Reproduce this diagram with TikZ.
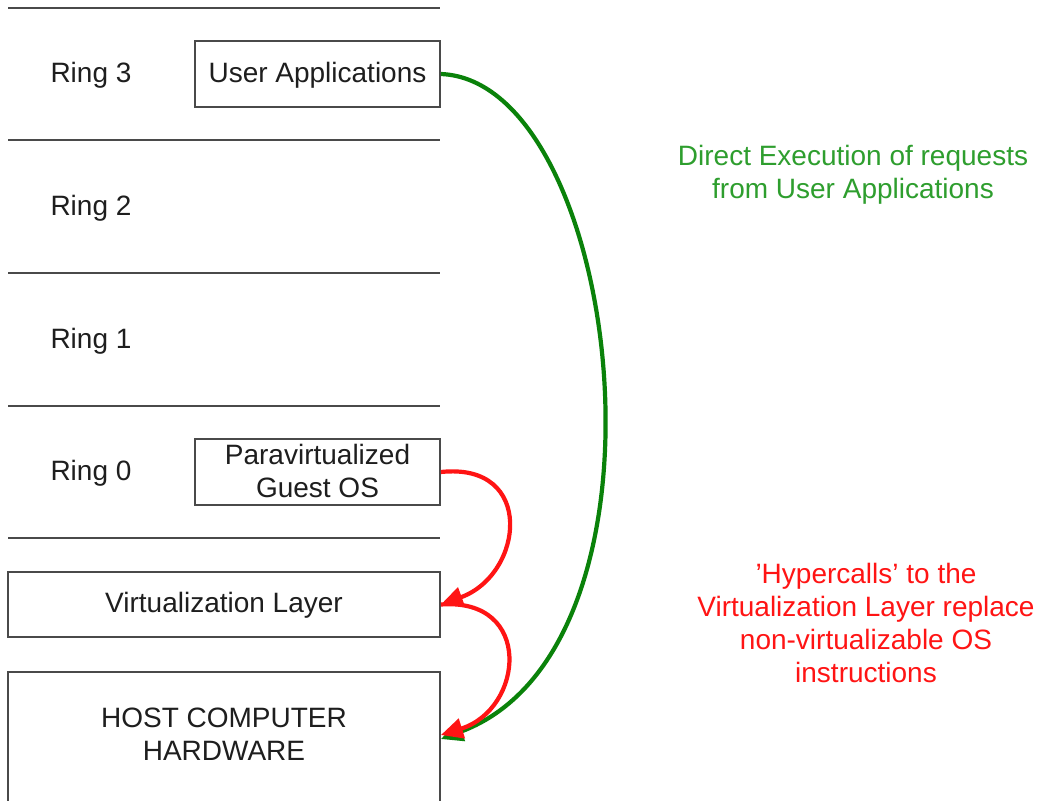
\documentclass[tikz,border=0pt]{standalone}
\usepackage{fontspec}
\setmainfont{Liberation Sans}
\usetikzlibrary{arrows.meta,calc}
\definecolor{edge}{HTML}{4A4A4A}
\definecolor{ink}{HTML}{1E1E1E}
\definecolor{callgreen}{HTML}{0A820A}
\definecolor{notegreen}{HTML}{2E9E2E}
\definecolor{callred}{HTML}{FF1414}
\begin{document}
\begin{tikzpicture}[x=1pt,y=-1pt,
  font=\fontsize{28}{33}\selectfont,
  ringline/.style={draw=edge,line width=1.8pt},
  layerbox/.style={draw=edge,line width=1.8pt,text=ink,align=center,inner sep=0pt},
  ringlabel/.style={text=ink,inner sep=0pt},
  flow/.style={line width=4.2pt,-{Triangle[length=22pt,width=20pt]}},
  note/.style={align=center,inner sep=0pt}]
\clip (0,0) rectangle (1040,800);
\fill[white] (0,0) rectangle (1040,800);

% ring separators
\foreach \y in {8,140,273,406,538}
  \draw[ringline] (8,\y) -- (440,\y);

% ring labels
\node[ringlabel] (r3) at (91,75) {Ring 3};
\node[ringlabel] (r2) at (91,208) {Ring 2};
\node[ringlabel] (r1) at (91,341) {Ring 1};
\node[ringlabel] (r0) at (91,473) {Ring 0};

% boxes
\node[layerbox,minimum width=245pt,minimum height=66pt] (ua) at (317.5,74) {};
\node[ringlabel] (uatext) at (317.5,75.5) {User Applications};
\node[layerbox,minimum width=245pt,minimum height=66pt] (pv) at (317.5,472) {};
\node[ringlabel,align=center] (pvtext) at (317.5,470.5) {Paravirtualized\\Guest OS};
\node[layerbox,minimum width=432pt,minimum height=65pt] (vl) at (224,604.5) {};
\node[ringlabel] (vltext) at (224,605) {Virtualization Layer};
\node[layerbox,minimum width=432pt,minimum height=134pt] (host) at (224,739) {};
\node[ringlabel,align=center] (hosttext) at (224,734.5) {HOST COMPUTER\\HARDWARE};

% calls
\draw[flow,callgreen] (ua.east) .. controls +(180,7) and +(248,-92) .. (host.east);
\draw[flow,callred] (pv.east) .. controls +(95,-10) and +(83,-30) .. (vl.east);
\draw[flow,callred] (vl.east) .. controls +(93,-7) and +(83,-26) .. ($(host.east)+(0,-4)$);

% annotations
\node[note,text=notegreen] (direct) at (853,175) {Direct Execution of requests\\from User Applications};
\node[note,text=callred] (hyper) at (866,623) {’Hypercalls’ to the\\Virtualization Layer replace\\non-virtualizable OS\\instructions};
\end{tikzpicture}
\end{document}
